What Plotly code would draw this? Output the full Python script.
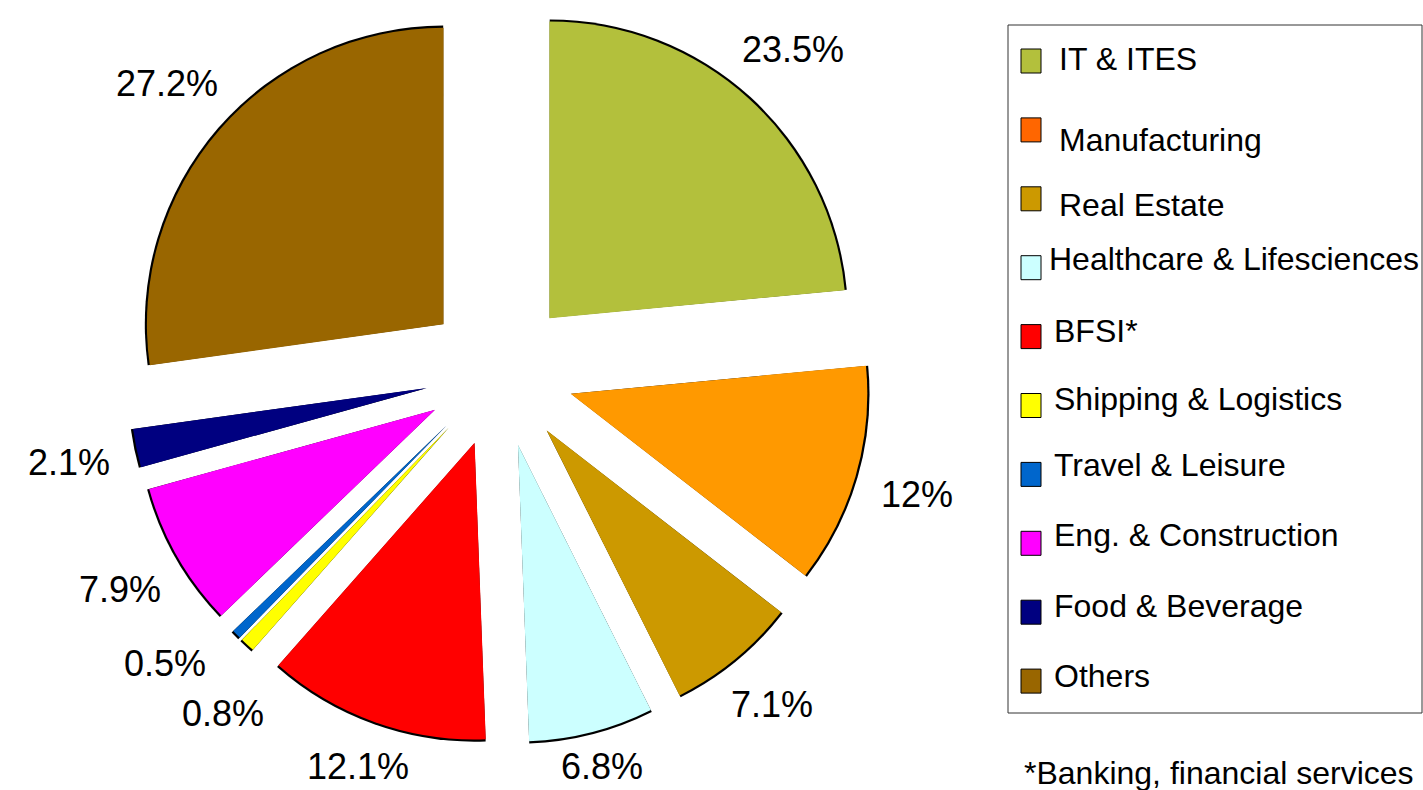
import math
import plotly.graph_objects as go

# ---- data ----
categories = ["IT & ITES", "Manufacturing", "Real Estate", "Healthcare & Lifesciences",
              "BFSI*", "Shipping & Logistics", "Travel & Leisure", "Eng. & Construction",
              "Food & Beverage", "Others"]
shares = [23.5, 12, 7.1, 6.8, 12.1, 0.8, 0.5, 7.9, 2.1, 27.2]
slice_colors = ["#B3C03C", "#FF9900", "#CC9900", "#CCFFFF", "#FF0000",
                "#FFFF00", "#0066CC", "#FF00FF", "#000080", "#996600"]
legend_colors = ["#B3C03C", "#FF6600", "#CC9900", "#CCFFFF", "#FF0000",
                 "#FFFF00", "#0066CC", "#FF00FF", "#000080", "#996600"]
footnote = "*Banking, financial services"

W, H = 1423, 790
MB = 44
PH = H - MB
FONT = "Liberation Sans, Arial, sans-serif"
PULL = 0.25
LABEL_SIZE = 36

def px_x(x):
    return x / W

def px_y(y):
    return 1 - y / PH

labels_txt = [f"{v:g}%" for v in shares]

fig = go.Figure()
cx = 0.351
dom_main_y = [0.003, 0.997]
# black "edge" pie underneath, slightly larger
fig.add_trace(go.Pie(
    values=shares, labels=categories, sort=False, direction="clockwise", rotation=0,
    pull=PULL, marker=dict(colors=["#000000"] * len(shares), line=dict(width=0)),
    textinfo="none", hoverinfo="skip", showlegend=False,
    domain=dict(x=[cx - 0.3, cx + 0.3], y=[0, 1]),
))
fig.add_trace(go.Pie(
    values=shares, labels=categories, sort=False, direction="clockwise", rotation=0,
    pull=PULL, marker=dict(colors=slice_colors, line=dict(width=0)),
    textinfo="none", showlegend=False,
    domain=dict(x=[cx - 0.3, cx + 0.3], y=dom_main_y),
))

# ---- percentage labels placed around the pie (derived from the shares) ----
center_x = cx * W
center_y = PH / 2
radius = PH * (dom_main_y[1] - dom_main_y[0]) / (2 + 2 * PULL)
edge_r = radius * (1 + PULL) + 28
char_w = {"0": .556, "1": .556, "2": .556, "3": .556, "4": .556, "5": .556, "6": .556,
          "7": .556, "8": .556, "9": .556, ".": .278, "%": .889}
total = sum(shares)
mids = []
acc = 0
for v in shares:
    mids.append((acc + v / 2) / total * 360)
    acc += v
# spread labels that are too close in angle
MIN_GAP = 10
for _ in range(5):
    for i in range(len(mids) - 1):
        gap = mids[i + 1] - mids[i]
        if gap < MIN_GAP:
            m = (mids[i] + mids[i + 1]) / 2
            mids[i] = m - MIN_GAP / 2
            mids[i + 1] = m + MIN_GAP / 2

MAX_LABEL_Y = H - 24
annotations = []
for txt, ang, v in zip(labels_txt, mids, shares):
    a = math.radians(ang)
    s, c = math.sin(a), -math.cos(a)
    hw = sum(char_w[ch] for ch in txt) * LABEL_SIZE / 2
    hh = 5
    extra = abs(s) * hw + abs(c) * hh
    if v < 1:
        extra += 10
    d = edge_r + extra
    ly = min(center_y + d * c, MAX_LABEL_Y)
    annotations.append(dict(xref="paper", yref="paper",
                            x=px_x(center_x + d * s), y=px_y(ly),
                            text=txt, showarrow=False, xanchor="center", yanchor="middle",
                            font=dict(family=FONT, size=LABEL_SIZE, color="black")))

shapes = []
# legend box
shapes.append(dict(type="rect", xref="paper", yref="paper",
                   x0=px_x(1008), x1=px_x(1422), y0=px_y(25), y1=px_y(713),
                   line=dict(color="#333333", width=1), fillcolor="rgba(0,0,0,0)"))
sw_top = 49
step = 68.9
text_off = [-2, 10, 6, -9, -6, -7, -9, -8, -6, -5]
text_x = [1057, 1057, 1057, 1047, 1052, 1052, 1052, 1052, 1052, 1052]
for i, (name, col) in enumerate(zip(categories, legend_colors)):
    y0 = sw_top + i * step
    shapes.append(dict(type="rect", xref="paper", yref="paper",
                       x0=px_x(1021), x1=px_x(1041), y0=px_y(y0), y1=px_y(y0 + 24),
                       line=dict(color="black", width=1), fillcolor=col))
    annotations.append(dict(xref="paper", yref="paper", x=px_x(text_x[i]),
                            y=px_y(y0 + 12 + text_off[i]), text=name, showarrow=False,
                            xanchor="left", yanchor="middle",
                            font=dict(family=FONT, size=32, color="black")))
annotations.append(dict(xref="paper", yref="paper", x=px_x(1416), y=px_y(773),
                        text=footnote, showarrow=False, xanchor="right", yanchor="middle",
                        font=dict(family=FONT, size=32, color="black")))

fig.update_layout(
    width=W, height=H,
    margin=dict(l=0, r=0, t=0, b=MB),
    paper_bgcolor="white", plot_bgcolor="white",
    shapes=shapes, annotations=annotations,
    font=dict(family=FONT),
)
fig.write_html("out.html", config={"displayModeBar": False},
               post_script="document.body.style.margin='0';document.documentElement.style.overflow='hidden';")
